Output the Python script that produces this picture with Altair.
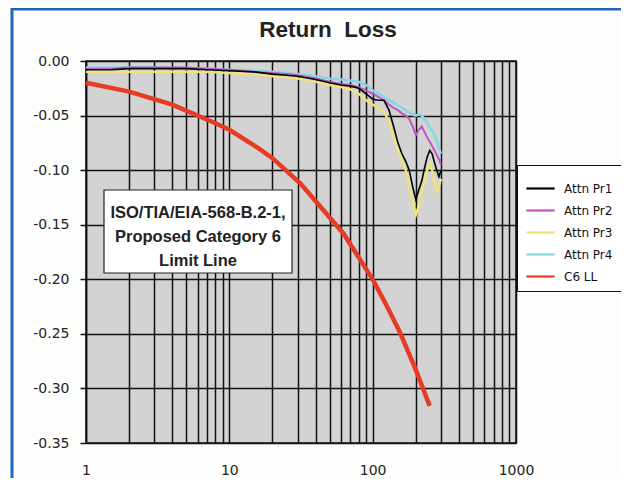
import altair as alt
import pandas as pd

# ---- data ----
freq = [1, 1.5, 2, 3, 4, 5, 7, 10, 15, 20, 25, 30, 40, 50, 60, 70, 80, 90, 100,
        110, 120, 130, 140, 150, 160, 170, 180, 190, 200, 210, 220, 230, 240,
        250, 260, 270, 280, 290, 300]
pr1 = [-0.008, -0.008, -0.007, -0.007, -0.007, -0.007, -0.008, -0.009, -0.010, -0.012,
       -0.013, -0.014, -0.017, -0.020, -0.022, -0.023, -0.025, -0.030, -0.035,
       -0.036, -0.036, -0.045, -0.060, -0.075, -0.085, -0.092, -0.100, -0.115, -0.127,
       -0.118, -0.110, -0.098, -0.088, -0.082, -0.085, -0.093, -0.100, -0.106, -0.100]
pr2 = [-0.007, -0.007, -0.006, -0.006, -0.006, -0.006, -0.007, -0.008, -0.010, -0.011,
       -0.012, -0.013, -0.016, -0.019, -0.021, -0.022, -0.024, -0.027, -0.030,
       -0.033, -0.036, -0.040, -0.043, -0.045, -0.048, -0.050, -0.053, -0.060, -0.068,
       -0.063, -0.060, -0.065, -0.070, -0.074, -0.078, -0.082, -0.086, -0.090, -0.095]
pr3 = [-0.010, -0.010, -0.010, -0.010, -0.010, -0.010, -0.010, -0.011, -0.012, -0.014,
       -0.015, -0.016, -0.019, -0.022, -0.024, -0.026, -0.030, -0.036, -0.040,
       -0.043, -0.047, -0.055, -0.068, -0.080, -0.092, -0.100, -0.112, -0.130, -0.141,
       -0.132, -0.120, -0.110, -0.100, -0.094, -0.100, -0.112, -0.120, -0.115, -0.108]
pr4 = [-0.006, -0.006, -0.006, -0.006, -0.007, -0.007, -0.007, -0.008, -0.009, -0.010,
       -0.011, -0.012, -0.014, -0.016, -0.017, -0.018, -0.019, -0.022, -0.027,
       -0.030, -0.033, -0.036, -0.038, -0.041, -0.043, -0.045, -0.047, -0.049, -0.050,
       -0.049, -0.050, -0.053, -0.057, -0.061, -0.064, -0.068, -0.073, -0.080, -0.085]
ll_freq = [1, 2, 4, 8, 10, 16, 20, 31.25, 62.5, 100, 125, 155.52, 175, 200, 250]
ll_val = [-0.020, -0.028, -0.040, -0.057, -0.063, -0.080, -0.089, -0.112, -0.158,
          -0.200, -0.224, -0.249, -0.265, -0.283, -0.316]

series_names = ["Attn Pr1", "Attn Pr2", "Attn Pr3", "Attn Pr4", "C6 LL"]
series_colors = ["#000000", "#c056c4", "#f2e27a", "#86d6e6", "#e63b25"]
series_widths = [1.6, 2.0, 2.4, 2.6, 4.5]
draw_order = ["C6 LL", "Attn Pr3", "Attn Pr4", "Attn Pr2", "Attn Pr1"]

x_grid = [1, 2, 3, 4, 5, 6, 7, 8, 9, 10, 20, 30, 40, 50, 60, 70, 80, 90,
          100, 200, 300, 400, 500, 600, 700, 800, 900, 1000]
y_ticks = [-0.35, -0.30, -0.25, -0.20, -0.15, -0.10, -0.05, 0.0]

rows = []
for name, vals in zip(series_names[:4], [pr1, pr2, pr3, pr4]):
    for f, v in zip(freq, vals):
        rows.append({"f": f, "v": v, "s": name})
for f, v in zip(ll_freq, ll_val):
    rows.append({"f": f, "v": v, "s": "C6 LL"})
df = pd.DataFrame(rows)

W, H = 430, 382

x_enc = alt.X("f:Q", scale=alt.Scale(type="log", domain=[1, 1000], nice=False),
              axis=alt.Axis(values=x_grid, title=None, grid=True, ticks=False,
                            domain=False, labelOverlap=False, labelFlush=False,
                            labelExpr="indexof([1,10,100,1000], datum.value) >= 0 ? format(datum.value, 'd') : ''",
                            labelPadding=20, labelFont="DejaVu Sans", labelFontSize=14,
                            labelColor="#222222"))
y_enc = alt.Y("v:Q", scale=alt.Scale(domain=[-0.35, 0], nice=False, zero=False),
              axis=alt.Axis(values=y_ticks, title=None, grid=True, ticks=True, tickSize=6,
                            tickColor="#111111", tickWidth=1.5, domainColor="#111111",
                            domainWidth=1.5,
                            labelExpr="(datum.value < 0 ? '-' : '') + format(abs(datum.value), '.2f')",
                            labelPadding=11, labelFont="DejaVu Sans", labelFontSize=14,
                            labelColor="#222222"))
color_enc = alt.Color("s:N", scale=alt.Scale(domain=series_names, range=series_colors),
                      legend=alt.Legend(orient="none", legendX=431, legendY=104, title=None,
                                        symbolType="stroke", symbolSize=800,
                                        symbolStrokeWidth=2.2, labelOffset=8,
                                        labelFont="DejaVu Sans", labelFontSize=12,
                                        labelColor="#111111", labelLimit=0,
                                        strokeColor="#111111", fillColor="white",
                                        padding=8, rowPadding=0))

base = alt.Chart(df)
width_of = dict(zip(series_names, series_widths))
lines = [base.transform_filter(alt.datum.s == name)
         .mark_line(interpolate="linear", strokeWidth=width_of[name])
         .encode(x=x_enc, y=y_enc, color=color_enc) for name in draw_order]

one = pd.DataFrame({"a": [0]})
box = alt.Chart(one).mark_rect(fill="white", stroke="#222222", strokeWidth=1.2).encode(
    x=alt.value(18), x2=alt.value(206), y=alt.value(129), y2=alt.value(212))
box_text = alt.Chart(one).mark_text(
    text=["ISO/TIA/EIA-568-B.2-1,", "Proposed Category 6", "Limit Line"],
    font="Liberation Sans", fontWeight="bold", fontSize=16.5, lineHeight=24,
    align="center", baseline="alphabetic", color="#222222").encode(
    x=alt.value(112), y=alt.value(157))
title = alt.Chart(one).mark_text(
    text="Return\u00a0 Loss", font="Liberation Sans", fontWeight="bold", fontSize=22.5,
    align="center", baseline="middle", color="#222222").encode(
    x=alt.value(242), y=alt.value(-31))
frame_top = alt.Chart(one).mark_rule(color="#1f66c0", strokeWidth=3).encode(
    x=alt.value(-74), x2=alt.value(540), y=alt.value(-52), y2=alt.value(-52))
frame_left = alt.Chart(one).mark_rule(color="#1f66c0", strokeWidth=3).encode(
    x=alt.value(-74), x2=alt.value(-74), y=alt.value(-53), y2=alt.value(420))

chart = alt.layer(*lines, box, box_text, title, frame_top, frame_left).properties(
    width=W, height=H,
    autosize=alt.AutoSizeParams(type="none"),
    padding={"left": 78, "top": 53, "right": 105, "bottom": 35},
    background="#fdfdfb",
).configure_view(
    fill="#d3d3d3", stroke="#111111", strokeWidth=1.5
).configure_axis(
    gridColor="#111111", gridWidth=1.5, gridOpacity=1
)

chart.save("out.html", embed_options={"renderer": "svg", "actions": False})
